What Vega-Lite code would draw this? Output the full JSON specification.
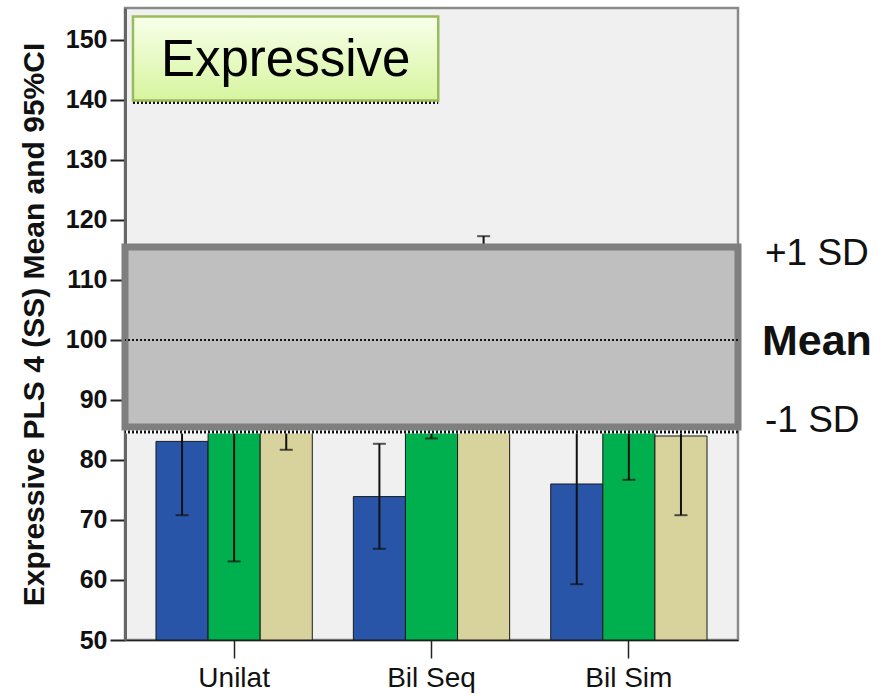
{
  "$schema": "https://vega.github.io/schema/vega-lite/v6.json",
  "width": 613,
  "height": 632,
  "autosize": {"type": "none"},
  "padding": {"left": 125, "top": 8, "right": 140, "bottom": 56},
  "background": "white",
  "datasets": {
    "scores": [
      {"cat": "Unilat", "grp": "g1", "mean": 83.1, "lo": 70.8, "hi": 95.4},
      {"cat": "Unilat", "grp": "g2", "mean": 86.0, "lo": 63.1, "hi": 108.9},
      {"cat": "Unilat", "grp": "g3", "mean": 88.0, "lo": 81.7, "hi": 94.3},
      {"cat": "Bil Seq", "grp": "g1", "mean": 73.9, "lo": 65.2, "hi": 82.7},
      {"cat": "Bil Seq", "grp": "g2", "mean": 96.0, "lo": 83.6, "hi": 108.4},
      {"cat": "Bil Seq", "grp": "g3", "mean": 102.0, "lo": 86.7, "hi": 117.3},
      {"cat": "Bil Sim", "grp": "g1", "mean": 76.0, "lo": 59.3, "hi": 92.7},
      {"cat": "Bil Sim", "grp": "g2", "mean": 90.0, "lo": 76.7, "hi": 103.3},
      {"cat": "Bil Sim", "grp": "g3", "mean": 84.0, "lo": 70.8, "hi": 97.2}
    ],
    "sdBand": [{"lower": 85.5, "upper": 115.5, "mean": 100, "edge": 84.67}],
    "titleBox": [{"left": 0.013, "right": 0.511, "bottom": 139.9, "top": 153.9, "line": 139.6}],
    "one": [{}]
  },
  "config": {
    "view": {"fill": "#f0f0f0", "stroke": "#8a8a8a", "strokeWidth": 2.5},
    "font": "Liberation Sans",
    "axis": {"grid": false}
  },
  "resolve": {"scale": {"x": "independent"}},
  "layer": [
    {
      "data": {"name": "scores"},
      "encoding": {
        "x": {
          "field": "cat",
          "type": "nominal",
          "sort": ["Unilat", "Bil Seq", "Bil Sim"],
          "scale": {"paddingInner": 0.208, "paddingOuter": 0.157},
          "axis": {
            "title": null,
            "labelAngle": 0,
            "labelFontSize": 28,
            "labelColor": "#111",
            "labelPadding": 6,
            "tickSize": 18,
            "tickColor": "#222",
            "tickWidth": 1.5,
            "domainColor": "#222",
            "domainWidth": 1.5
          }
        },
        "xOffset": {
          "field": "grp",
          "type": "nominal",
          "sort": ["g1", "g2", "g3"],
          "scale": {"paddingInner": 0, "paddingOuter": 0}
        }
      },
      "layer": [
        {
          "mark": {"type": "bar", "stroke": "#1a1a1a", "strokeWidth": 1},
          "encoding": {
            "y": {
              "field": "mean",
              "type": "quantitative",
              "scale": {"domain": [50, 155.33], "nice": false, "zero": false},
              "axis": {
                "title": "Expressive PLS 4 (SS) Mean and 95%CI",
                "titleFontSize": 30,
                "titleFontWeight": "bold",
                "titleColor": "#111",
                "titlePadding": 16,
                "values": [50, 60, 70, 80, 90, 100, 110, 120, 130, 140, 150],
                "labelFontSize": 25,
                "labelFontWeight": "bold",
                "labelColor": "#111",
                "labelPadding": 3,
                "tickSize": 15,
                "tickWidth": 2,
                "tickColor": "#222",
                "domainColor": "#666",
                "domainWidth": 3
              }
            },
            "y2": {"datum": 50},
            "color": {
              "field": "grp",
              "type": "nominal",
              "scale": {"domain": ["g1", "g2", "g3"], "range": ["#2855a8", "#00b04f", "#d8d29c"]},
              "legend": null
            }
          }
        },
        {
          "mark": {"type": "rule", "color": "#111", "strokeWidth": 2},
          "encoding": {
            "y": {"field": "lo", "type": "quantitative"},
            "y2": {"field": "hi"}
          }
        },
        {
          "mark": {"type": "tick", "color": "#111", "size": 13, "thickness": 2},
          "encoding": {"y": {"field": "lo", "type": "quantitative"}}
        },
        {
          "mark": {"type": "tick", "color": "#111", "size": 13, "thickness": 2},
          "encoding": {"y": {"field": "hi", "type": "quantitative"}}
        }
      ]
    },
    {
      "encoding": {
        "x": {"type": "quantitative", "scale": {"domain": [0, 1], "nice": false, "zero": false}, "axis": null}
      },
      "layer": [
        {
          "data": {"name": "sdBand"},
          "mark": {"type": "rect", "fill": "#bfbfbf", "stroke": "#7f7f7f", "strokeWidth": 7},
          "encoding": {
            "y": {"field": "lower", "type": "quantitative"},
            "y2": {"field": "upper"}
          }
        },
        {
          "data": {"name": "sdBand"},
          "mark": {"type": "rule", "color": "#111", "strokeWidth": 2, "strokeDash": [2, 2]},
          "encoding": {"y": {"field": "mean", "type": "quantitative"}}
        },
        {
          "data": {"name": "sdBand"},
          "mark": {"type": "rule", "color": "white", "strokeWidth": 3},
          "encoding": {"y": {"field": "edge", "type": "quantitative"}}
        },
        {
          "data": {"name": "sdBand"},
          "mark": {"type": "rule", "color": "#111", "strokeWidth": 3, "strokeDash": [2, 2]},
          "encoding": {"y": {"field": "edge", "type": "quantitative"}}
        },
        {
          "data": {"name": "titleBox"},
          "mark": {"type": "rule", "color": "white", "strokeWidth": 3},
          "encoding": {
            "x": {"field": "left", "type": "quantitative"},
            "x2": {"field": "right"},
            "y": {"field": "line", "type": "quantitative"}
          }
        },
        {
          "data": {"name": "titleBox"},
          "mark": {"type": "rule", "color": "#111", "strokeWidth": 3, "strokeDash": [2, 2]},
          "encoding": {
            "x": {"field": "left", "type": "quantitative"},
            "x2": {"field": "right"},
            "y": {"field": "line", "type": "quantitative"}
          }
        },
        {
          "data": {"name": "titleBox"},
          "mark": {
            "type": "rect",
            "stroke": "#9bbb59",
            "strokeWidth": 2.5,
            "fill": {
              "gradient": "linear",
              "x1": 0, "y1": 0, "x2": 0, "y2": 1,
              "stops": [
                {"offset": 0, "color": "#f8ffea"},
                {"offset": 1, "color": "#d6f59e"}
              ]
            }
          },
          "encoding": {
            "x": {"field": "left", "type": "quantitative"},
            "x2": {"field": "right"},
            "y": {"field": "bottom", "type": "quantitative"},
            "y2": {"field": "top"}
          }
        },
        {
          "data": {"name": "one"},
          "mark": {"type": "text", "font": "Liberation Sans", "fontSize": 51, "color": "#000", "align": "center", "baseline": "alphabetic"},
          "encoding": {
            "x": {"datum": 0.262, "type": "quantitative"},
            "y": {"datum": 144.0, "type": "quantitative"},
            "text": {"value": "Expressive"}
          }
        },
        {
          "data": {"name": "one"},
          "mark": {"type": "text", "font": "Liberation Sans", "fontSize": 37, "color": "#111", "align": "left", "baseline": "alphabetic"},
          "encoding": {
            "x": {"datum": 1.044, "type": "quantitative"},
            "y": {"datum": 112.5, "type": "quantitative"},
            "text": {"value": "+1 SD"}
          }
        },
        {
          "data": {"name": "one"},
          "mark": {"type": "text", "font": "Liberation Sans", "fontWeight": "bold", "fontSize": 43, "color": "#111", "align": "left", "baseline": "alphabetic"},
          "encoding": {
            "x": {"datum": 1.039, "type": "quantitative"},
            "y": {"datum": 97.5, "type": "quantitative"},
            "text": {"value": "Mean"}
          }
        },
        {
          "data": {"name": "one"},
          "mark": {"type": "text", "font": "Liberation Sans", "fontSize": 37, "color": "#111", "align": "left", "baseline": "alphabetic"},
          "encoding": {
            "x": {"datum": 1.044, "type": "quantitative"},
            "y": {"datum": 84.6, "type": "quantitative"},
            "text": {"value": "-1 SD"}
          }
        }
      ]
    }
  ]
}
